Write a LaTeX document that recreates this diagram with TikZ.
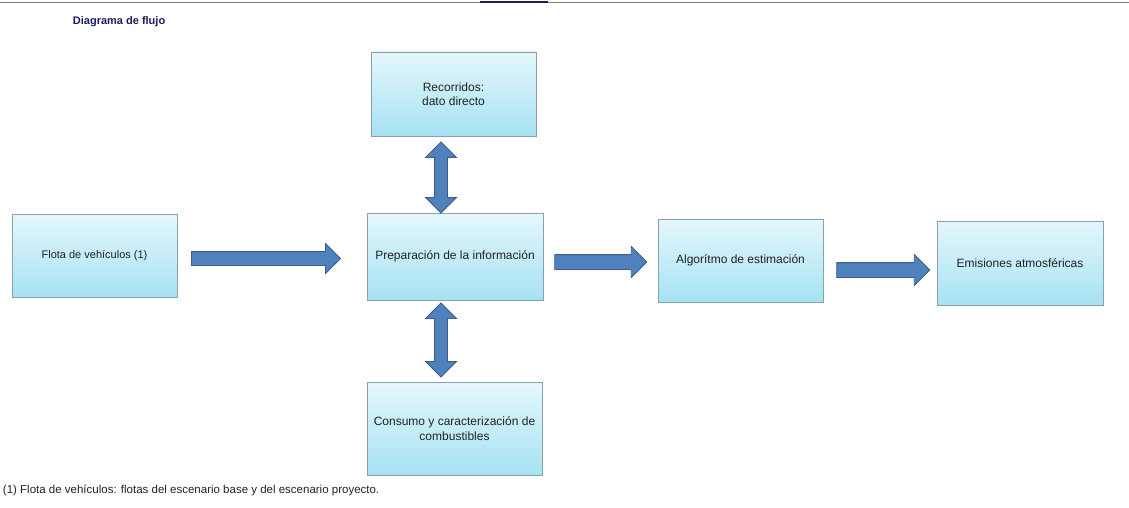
\documentclass[tikz,border=0pt]{standalone}
\usepackage{fontspec}
\setmainfont{Liberation Sans}
\usetikzlibrary{shapes.arrows}

\definecolor{boxtop}{HTML}{E4F7FC}
\definecolor{boxbot}{HTML}{A6E2F3}
\definecolor{boxline}{HTML}{8AA0B0}
\definecolor{arrfill}{HTML}{4F81BD}
\definecolor{arrline}{HTML}{3A5F8C}
\definecolor{titleblue}{HTML}{1C1C5E}
\definecolor{txtgray}{HTML}{222222}

\tikzset{
  box/.style={draw=boxline, line width=0.8pt, top color=boxtop, bottom color=boxbot, align=center, inner sep=0.75pt, text=txtgray, font=\fontsize{12}{14.5}\selectfont},
  fatarrow/.style={single arrow, draw=arrline, fill=arrfill, line width=0.8pt, inner xsep=0pt, inner ysep=7pt, single arrow head extend=8pt, single arrow tip angle=90},
  fatdouble/.style={double arrow, draw=arrline, fill=arrfill, line width=0.8pt, inner xsep=0pt, inner ysep=6pt, double arrow head extend=9pt, double arrow tip angle=90}
}

\begin{document}
\begin{tikzpicture}[x=1pt,y=1pt,yscale=-1,xscale=1]
\useasboundingbox (0,0) rectangle (1129,508);

%Top rule
\draw [color=gray, line width=1pt] (0,2.5) -- (1129,2.5);
\draw [color=titleblue, line width=2pt] (480,2.5) -- (548,2.5);

% Text Node
\node [anchor=west, inner sep=0.75pt, text=titleblue, font=\bfseries\fontsize{11}{13}\selectfont] (titulo) at (72,22) {Diagrama de flujo};

%Shape: Box
\node [box, minimum width=165, minimum height=83] (flota) at (94.5,255.5) {\fontsize{11}{13}\selectfont Flota de vehículos (1)};
%Shape: Box
\node [box, minimum width=165, minimum height=84] (recorridos) at (453.5,94) {Recorridos:\\dato directo};
%Shape: Box
\node [box, minimum width=176, minimum height=87] (prep) at (455,256.5) {Preparación de la información};
%Shape: Box
\node [box, minimum width=175, minimum height=93] (consumo) at (454.5,428.5) {Consumo y caracterización de\\combustibles};
%Shape: Box
\node [box, minimum width=165, minimum height=83] (algoritmo) at (740.5,260.5) {Algorítmo de estimación};
%Shape: Box
\node [box, minimum width=166, minimum height=84] (emisiones) at (1020,263) {Emisiones atmosféricas};

%Block Arrow
\node [fatarrow, inner ysep=6.5pt, minimum height=149] (flecha1) at (262.5,258.5) {};
%Block Arrow
\node [fatarrow, minimum height=92] (flecha2) at (597,262) {};
%Block Arrow
\node [fatarrow, minimum height=93] (flecha3) at (879.5,270) {};
%Up Down Arrow
\node [fatdouble, rotate=90, minimum height=71] (ida1) at (441,177.5) {};
%Up Down Arrow
\node [fatdouble, rotate=90, minimum height=74] (ida2) at (441,340) {};

% Text Node
\node [anchor=west, inner sep=0.75pt, text=txtgray, font=\fontsize{11.5}{13}\selectfont] (nota) at (2,490) {(1) Flota de vehículos: flotas del escenario base y del escenario proyecto.};

\end{tikzpicture}
\end{document}
